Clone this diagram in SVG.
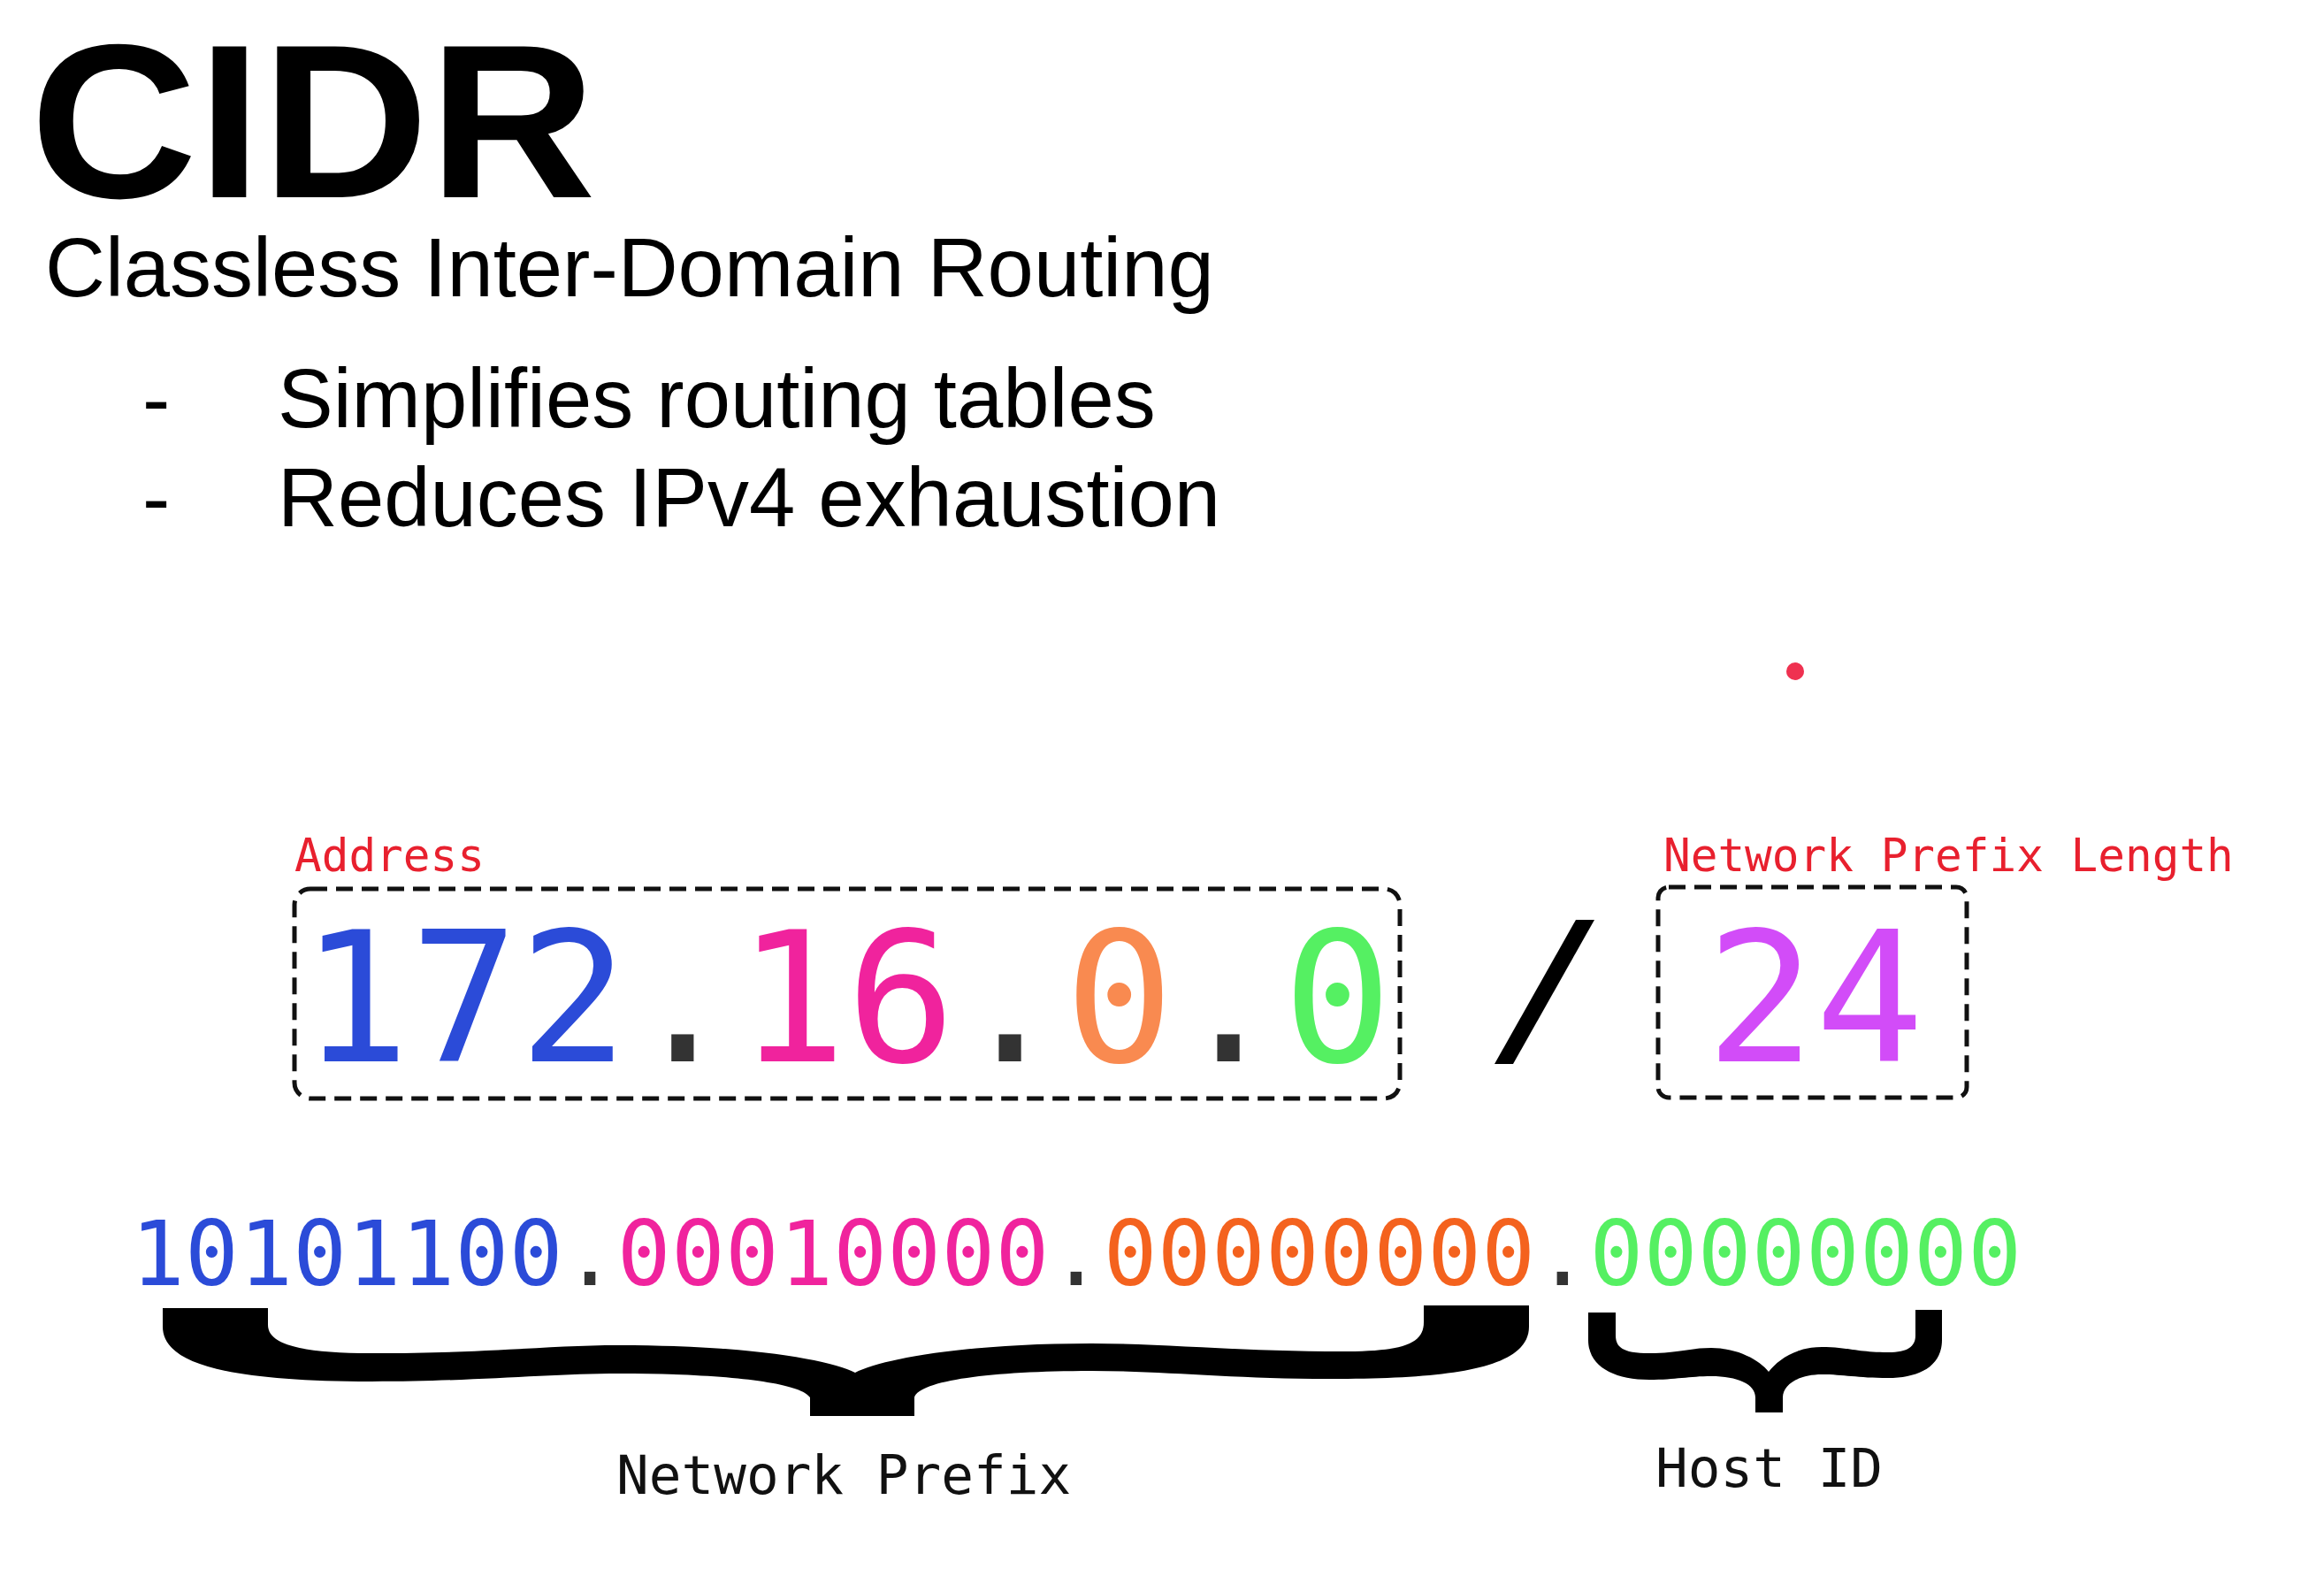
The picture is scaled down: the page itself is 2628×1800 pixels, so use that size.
<svg xmlns="http://www.w3.org/2000/svg" width="2628" height="1800" viewBox="0 0 2628 1800">
<style>
.sans{font-family:"Liberation Sans",Arial,sans-serif;fill:#000}
.mono{font-family:"DejaVu Sans Mono","Liberation Mono",monospace}
.lbl{font-family:"DejaVu Sans Mono",monospace;font-size:51px;fill:#e8202e}
.box{fill:none;stroke:#111;stroke-width:5;stroke-dasharray:19 10}
.dot{fill:#333}
.blue{fill:#2b4bd8}.pink{fill:#f0239d}.orange{fill:#f98a50}.orange2{fill:#f4621e}.green{fill:#55f062}.purple{fill:#d24cf8}
.brace{fill:#000}
.cap{font-family:"DejaVu Sans Mono",monospace;font-size:61px;fill:#111}
</style>
<rect width="2628" height="1800" fill="#fff"/>
<g id="title">
<text class="sans" x="34" y="223" font-size="248" font-weight="bold" textLength="640" lengthAdjust="spacingAndGlyphs">CIDR</text>
</g>
<g id="subtitle">
<text class="sans" x="51" y="335" font-size="94">Classless Inter-Domain Routing</text>
</g>
<g id="bullets">
<text class="sans" x="161" y="483" font-size="94">-</text>
<text class="sans" x="314" y="483" font-size="94">Simplifies routing tables</text>
<text class="sans" x="161" y="595" font-size="94">-</text>
<text class="sans" x="314" y="595" font-size="94">Reduces IPv4 exhaustion</text>
</g>
<g id="pointer">
<circle cx="2030" cy="759" r="10" fill="#ef3150"/>
</g>
<g id="address">
<text class="lbl" x="333" y="985">Address</text>
<rect class="box" x="333" y="1005" width="1250" height="237" rx="18"/>
<text class="mono" x="340" y="1200" font-size="205"><tspan class="blue">172</tspan><tspan class="dot">.</tspan><tspan class="pink">16</tspan><tspan class="dot">.</tspan><tspan class="orange">0</tspan><tspan class="dot">.</tspan><tspan class="green">0</tspan></text>
</g>
<g id="slash">
<polygon points="1782,1040 1803,1040 1711,1203 1690,1203" fill="#000"/>
</g>
<g id="prefix-length">
<text class="lbl" x="1881" y="985">Network Prefix Length</text>
<rect class="box" x="1875" y="1003" width="349" height="238" rx="12"/>
<text class="mono purple" x="1929" y="1200" font-size="205">24</text>
</g>
<g id="binary">
<text class="mono" x="148" y="1453" font-size="101" textLength="2138" lengthAdjust="spacing"><tspan class="blue">10101100</tspan><tspan class="dot">.</tspan><tspan class="pink">00010000</tspan><tspan class="dot">.</tspan><tspan class="orange2">00000000</tspan><tspan class="dot">.</tspan><tspan class="green">00000000</tspan></text>
</g>
<g id="connectors">
<path class="brace" d="M184 1479 L303 1479 L303 1498 C303 1520 340 1530 420 1530 C560 1530 620 1521 700 1521 C850 1521 940 1538 967 1552 C994 1538 1084 1519 1234 1519 C1314 1519 1400 1528 1520 1528 C1590 1528 1610 1518 1610 1495 L1610 1476 L1729 1476 L1729 1500 C1729 1545 1650 1558 1520 1559 C1400 1560 1320 1550 1234 1550 C1120 1550 1040 1561 1034 1580 L1034 1601 L916 1601 L916 1580 C905 1563 820 1553 700 1553 C620 1553 540 1562 420 1562 C250 1562 184 1540 184 1500 Z"/>
<path class="brace" d="M1796 1484 L1827 1484 L1827 1510 C1827 1526 1840 1530 1865 1530 C1900 1530 1910 1524 1935 1524 C1965 1524 1990 1538 2000 1551 C2010 1538 2030 1523 2060 1523 C2090 1523 2100 1529 2135 1529 C2158 1529 2166 1522 2166 1510 L2166 1481 L2196 1481 L2196 1515 C2196 1545 2170 1558 2135 1558 C2100 1558 2085 1554 2060 1554 C2035 1554 2016 1565 2016 1580 L2016 1597 L1985 1597 L1985 1580 C1985 1565 1965 1556 1935 1556 C1910 1556 1895 1560 1865 1560 C1825 1560 1796 1545 1796 1515 Z"/>
</g>
<g id="network-prefix">
<text class="cap" x="697" y="1689">Network Prefix</text>
</g>
<g id="host-id">
<text class="cap" x="1872" y="1681">Host ID</text>
</g>
</svg>
